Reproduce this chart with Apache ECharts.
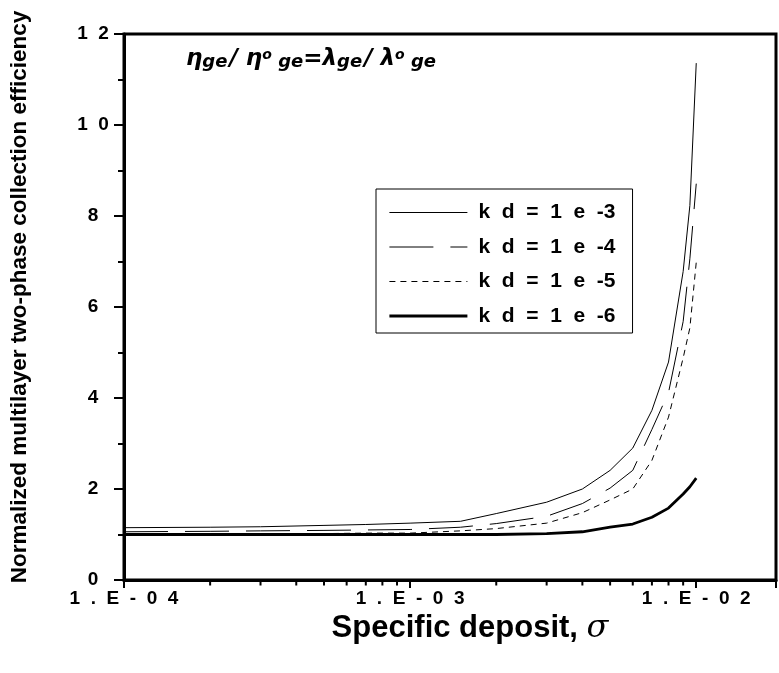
<!DOCTYPE html>
<html><head><meta charset="utf-8">
<script src="https://cdn.jsdelivr.net/npm/echarts@6/dist/echarts.min.js"></script>
<style>html,body{margin:0;padding:0;background:#fff}#c{width:779px;height:673px}</style>
</head><body><div id="c"></div>
<script>
// ---- data ----
const sigma  = [1e-4, 2e-4, 3e-4, 5e-4, 7e-4, 1e-3, 1.5e-3, 2e-3, 3e-3, 4e-3, 5e-3, 6e-3, 7e-3, 8e-3, 9e-3, 9.5e-3, 1e-2];
const kd1e3  = [1.15, 1.16, 1.17, 1.20, 1.22, 1.25, 1.29, 1.46, 1.71, 2.00, 2.41, 2.90, 3.73, 4.79, 6.78, 8.23, 11.36];
const kd1e4  = [1.06, 1.07, 1.08, 1.09, 1.10, 1.11, 1.16, 1.24, 1.40, 1.68, 2.02, 2.41, 3.31, 4.12, 5.68, 7.06, 8.71];
const kd1e5  = [1.02, 1.02, 1.02, 1.02, 1.03, 1.03, 1.08, 1.13, 1.25, 1.48, 1.76, 2.00, 2.63, 3.58, 4.88, 5.54, 6.98];
const kd1e6  = [1.00, 1.00, 1.00, 1.00, 1.00, 1.00, 1.00, 1.00, 1.02, 1.06, 1.16, 1.23, 1.38, 1.58, 1.89, 2.05, 2.24];
const seriesNames = ['k d = 1 e -3', 'k d = 1 e -4', 'k d = 1 e -5', 'k d = 1 e -6'];
const xTickValues = [1e-4, 1e-3, 1e-2];
const xTickLabels = ['1.E-04', '1.E-03', '1.E-02'];
const xMinorTicks = [2e-4, 3e-4, 4e-4, 5e-4, 6e-4, 7e-4, 8e-4, 9e-4, 2e-3, 3e-3, 4e-3, 5e-3, 6e-3, 7e-3, 8e-3, 9e-3];
const xAxisTitle = 'Specific deposit, ';
const xAxisSymbol = 'σ';
const yAxisTitle = 'Normalized multilayer two-phase collection efficiency';

// ---- helpers ----
const FONT = '"Liberation Sans", Arial, sans-serif';
const GREEK = '"DejaVu Sans", sans-serif';
function spaced(s) { return s.split('').join('  '); }
function legendName(s) { return s.replace(/ /g, '  '); }
function pairs(ys) { return sigma.map((s, i) => [s, ys[i]]); }

const chart = echarts.init(document.getElementById('c'), null, { renderer: 'canvas' });

const styles = [
  { width: 1, type: 'solid' },
  { width: 1, type: [44, 17] },
  { width: 1, type: [6, 5] },
  { width: 2.8, type: 'solid' }
];
const dataSets = [kd1e3, kd1e4, kd1e5, kd1e6];

const lineSeries = dataSets.map((d, i) => ({
  name: legendName(seriesNames[i]),
  type: 'line',
  data: pairs(d),
  symbol: 'none',
  smooth: false,
  lineStyle: { color: '#000', width: styles[i].width, type: styles[i].type },
  itemStyle: { color: '#000' },
  z: 3
}));

const option = {
  animation: false,
  backgroundColor: '#fff',
  grid: { left: 119, top: 34, right: -3, bottom: 93, show: true, borderColor: '#000', borderWidth: 3 },
  xAxis: {
    type: 'log', logBase: 10, min: 1e-4, max: 0.019,
    axisLine: { lineStyle: { color: '#000', width: 3 } },
    axisTick: { length: 8, lineStyle: { color: '#000', width: 2 } },
    minorTick: { show: false },
    splitLine: { show: false },
    axisLabel: {
      color: '#000', fontSize: 19, fontWeight: 'bold', fontFamily: FONT, margin: 9,
      formatter: function (v) {
        for (let i = 0; i < xTickValues.length; i++) {
          if (Math.abs(v / xTickValues[i] - 1) < 1e-6) return spaced(xTickLabels[i]);
        }
        return '';
      }
    },
    name: xAxisTitle + '{s|' + xAxisSymbol + '}',
    nameLocation: 'middle', nameGap: 27,
    nameTextStyle: {
      color: '#000', fontSize: 31, fontWeight: 'bold', fontFamily: FONT, padding: [0, 0, 0, 40],
      rich: { s: { fontSize: 32, fontStyle: 'italic', fontWeight: 'normal', fontFamily: '"DejaVu Serif", serif', color: '#000' } }
    }
  },
  yAxis: {
    type: 'value', min: 0, max: 12, interval: 2,
    axisLine: { show: true, lineStyle: { color: '#000', width: 3 } },
    axisTick: { show: true, length: 10, lineStyle: { color: '#000', width: 2 } },
    minorTick: { show: true, splitNumber: 2, length: 6, lineStyle: { color: '#000', width: 2 } },
    splitLine: { show: false },
    axisLabel: {
      color: '#000', fontSize: 19, fontWeight: 'bold', fontFamily: FONT, align: 'center', margin: 31,
      formatter: v => spaced(String(v))
    },
    name: yAxisTitle, nameLocation: 'middle', nameGap: 93,
    nameTextStyle: { color: '#000', fontSize: 22.5, fontWeight: 'bold', fontFamily: FONT, padding: [0, 0, 0, 20] }
  },
  legend: {
    data: lineSeries.map((s, i) => ({ name: s.name, lineStyle: { width: styles[i].width, type: styles[i].type, color: '#000' }, itemStyle: { opacity: 0 } })),
    orient: 'vertical', left: 376, top: 189,
    itemWidth: 78, itemHeight: 14, itemGap: 10.5,
    padding: [11.5, 17, 5, 12],
    borderColor: '#000', borderWidth: 1, backgroundColor: '#fff',
    selectedMode: false,
    itemStyle: { opacity: 0 },
    textStyle: { color: '#000', fontSize: 21, fontWeight: 'bold', fontFamily: FONT, lineHeight: 24, padding: [0, 0, 0, 6] }
  },
  graphic: [{
    type: 'text', left: 186, top: 48, z: 10,
    style: {
      text: '{m|η}{s|ge}{sl|/}{m|η}{o|o}{s| ge}{m|=}{m|λ}{s|ge}{sl|/}{m|λ}{o|o}{s| ge}',
      rich: {
        m: { fontSize: 23, fontStyle: 'italic', fontWeight: 'bold', fontFamily: GREEK, lineHeight: 23, verticalAlign: 'bottom', fill: '#000' },
        sl: { fontSize: 23, fontStyle: 'italic', fontWeight: 'bold', fontFamily: GREEK, lineHeight: 23, verticalAlign: 'bottom', padding: [0, 8, 0, 2], fill: '#000' },
        s: { fontSize: 18, fontStyle: 'italic', fontWeight: 'bold', fontFamily: GREEK, lineHeight: 18, verticalAlign: 'bottom', fill: '#000' },
        o: { fontSize: 14, fontStyle: 'italic', fontWeight: 'bold', fontFamily: GREEK, lineHeight: 14, verticalAlign: 'top', fill: '#000' }
      }
    }
  }],
  series: lineSeries.concat([{
    type: 'custom', silent: true, clip: false, z: 5,
    data: xMinorTicks.map(v => [v, 0]),
    renderItem: function (params, api) {
      const p = api.coord([api.value(0), 0]);
      return { type: 'line', shape: { x1: p[0], y1: p[1], x2: p[0], y2: p[1] + 5.5 }, style: { stroke: '#000', lineWidth: 2 } };
    }
  }])
};
chart.setOption(option);
</script></body></html>
